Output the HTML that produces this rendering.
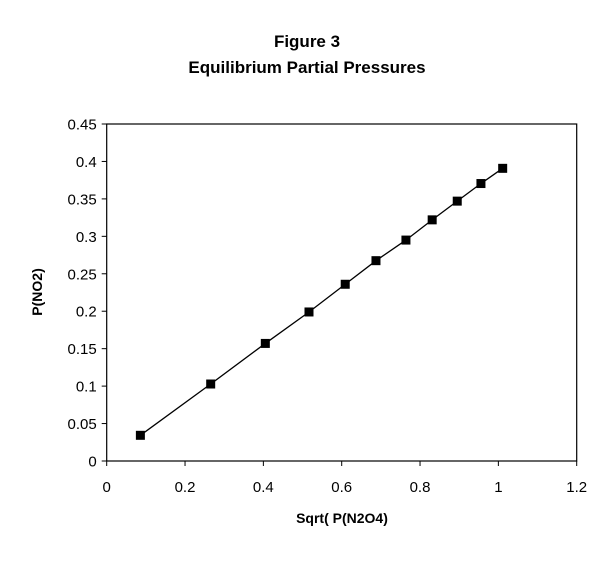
<!DOCTYPE html>
<html><head><meta charset="utf-8">
<style>
body{margin:0;background:#fff;font-family:"Liberation Sans",Arial,sans-serif}
svg text{font-family:"Liberation Sans",Arial,sans-serif}
</style></head><body>
<svg id="chart" width="615" height="562" xmlns="http://www.w3.org/2000/svg">
<text x="307" y="47" text-anchor="middle" font-size="17" font-weight="bold">Figure 3</text>
<text x="307" y="73" text-anchor="middle" font-size="17" font-weight="bold">Equilibrium Partial Pressures</text>
<rect x="106.7" y="124" width="470" height="337" fill="none" stroke="#000" stroke-width="1.2"/>
<g id="axes"></g>
<g id="series"></g>
<text x="342" y="523" text-anchor="middle" font-size="14" font-weight="bold">Sqrt( P(N2O4)</text>
<text transform="translate(42,292) rotate(-90)" text-anchor="middle" font-size="14" font-weight="bold">P(NO2)</text>
</svg>
<script>
const xData=[0.086,0.2655,0.405,0.5165,0.609,0.6875,0.764,0.831,0.895,0.9555,1.011];
const yData=[0.0343,0.1028,0.157,0.199,0.236,0.2675,0.295,0.322,0.347,0.3705,0.3908];
const xTicks=[0,0.2,0.4,0.6,0.8,1,1.2];
const yTicks=[0,0.05,0.1,0.15,0.2,0.25,0.3,0.35,0.4,0.45];
const X0=106.7,X1=576.7,Y0=461,Y1=124;
function sx(v){return X0+(v/1.2)*(X1-X0);}
function sy(v){return Y0-(v/0.45)*(Y0-Y1);}
const NS="http://www.w3.org/2000/svg";
const axes=document.getElementById('axes'),ser=document.getElementById('series');
function mk(tag,attrs,parent){const e=document.createElementNS(NS,tag);for(const k in attrs)e.setAttribute(k,attrs[k]);parent.appendChild(e);return e;}
xTicks.forEach(t=>{
  const l=mk('line',{x1:sx(t),x2:sx(t),y1:Y0,y2:Y0+5,stroke:'#000'},axes);
  
  
  const tx=mk('text',{x:sx(t),y:Y0+31,'text-anchor':'middle','font-size':'15'},axes);
  tx.textContent=String(t);
  
  
});
yTicks.forEach(t=>{
  const l=mk('line',{x1:X0-5,x2:X0,y1:sy(t),y2:sy(t),stroke:'#000'},axes);
  
  
  const tx=mk('text',{x:X0-10,y:sy(t)+5.5,'text-anchor':'end','font-size':'15'},axes);
  tx.textContent=String(t);
  
  
});
const pts=xData.map((x,i)=>sx(x)+','+sy(yData[i])).join(' ');
const pl=mk('polyline',{points:pts,fill:'none',stroke:'#000','stroke-width':'1.3'},ser);


xData.forEach((x,i)=>{
  const r=mk('rect',{x:sx(x)-4.5,y:sy(yData[i])-4.5,width:9,height:9,fill:'#000'},ser);
  
  
});
</script>
</body></html>
